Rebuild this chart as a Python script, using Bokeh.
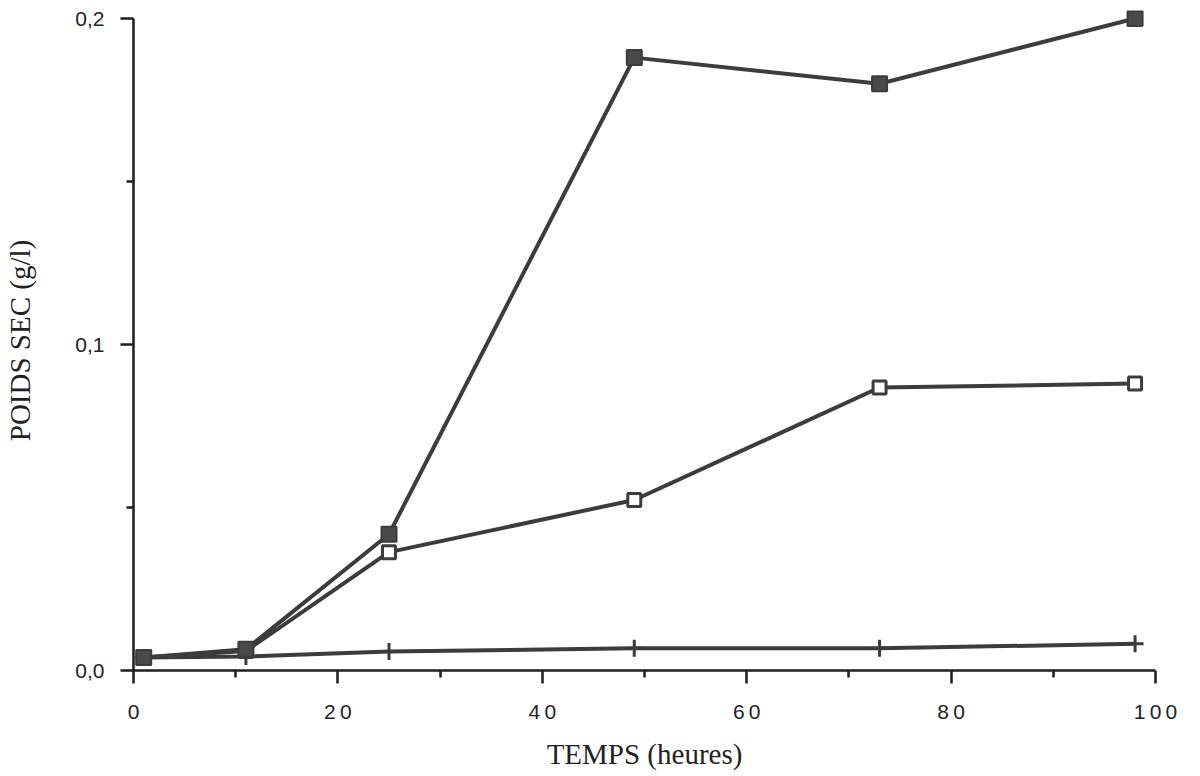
from bokeh.plotting import figure
from bokeh.embed import file_html
from bokeh.resources import INLINE
from bokeh.models import Range1d, CustomJSTickFormatter, FixedTicker

# Data
temps = [1, 11, 25, 49, 73, 98]
serie_pleine = [0.004, 0.0065, 0.0418, 0.188, 0.180, 0.200]
serie_vide = [0.004, 0.0060, 0.0363, 0.0523, 0.0868, 0.0880]
serie_croix = [0.004, 0.0043, 0.0058, 0.0068, 0.0068, 0.0082]

x_ticks = [0, 20, 40, 60, 80, 100]
x_minor = [10, 30, 50, 70, 90]
y_ticks = [0.0, 0.1, 0.2]
y_minor = [0.05, 0.15]
x_label = "TEMPS (heures)"
y_label = "POIDS SEC (g/l)"

W, H = 1184, 774
p = figure(width=W, height=H, output_backend="svg", toolbar_location=None,
           min_border_left=133, min_border_right=29, min_border_top=10, min_border_bottom=104)
p.x_range = Range1d(0, 100)
p.y_range = Range1d(0, 0.2 * (652 + 8) / 652)
p.outline_line_color = None
p.grid.visible = False
p.background_fill_color = "white"
p.border_fill_color = "white"

ink = "#3c3c3c"
for ax in (p.xaxis[0], p.yaxis[0]):
    ax.axis_line_color = "#1e1e1e"
    ax.axis_line_width = 2.5
    ax.major_tick_line_color = "#1e1e1e"
    ax.minor_tick_line_color = "#1e1e1e"
    ax.major_tick_line_width = 2.5
    ax.minor_tick_line_width = 2.5
    ax.major_tick_in = 0
    ax.minor_tick_in = 0
    ax.major_label_text_font = "Liberation Sans"
    ax.major_label_text_font_size = "21px"
    ax.major_label_text_color = "#222222"
    ax.axis_label_text_font = "Liberation Serif"
    ax.axis_label_text_font_size = "29px"
    ax.axis_label_text_font_style = "normal"
    ax.axis_label_text_color = "#222222"

p.xaxis.bounds = (0, 100)
p.yaxis.bounds = (0, 0.2)
p.xaxis.ticker = FixedTicker(ticks=x_ticks, minor_ticks=x_minor)
p.yaxis.ticker = FixedTicker(ticks=y_ticks, minor_ticks=y_minor)
p.xaxis.major_tick_out = 13
p.xaxis.minor_tick_out = 7
p.yaxis.major_tick_out = 13
p.yaxis.minor_tick_out = 7
p.xaxis.major_label_standoff = 16
p.yaxis.major_label_standoff = 16
p.xaxis.axis_label = x_label
p.yaxis.axis_label = y_label
p.xaxis.axis_label_standoff = 12
p.yaxis.axis_label_standoff = 36
p.xaxis.formatter = CustomJSTickFormatter(code="return tick.toFixed(0).split('').join('\u2009');")
p.yaxis.formatter = CustomJSTickFormatter(code="return tick.toFixed(1).replace('.', ',');")

lw = 4
p.line(temps, serie_croix, line_color=ink, line_width=lw)
p.line(temps, serie_vide, line_color=ink, line_width=lw)
p.line(temps, serie_pleine, line_color=ink, line_width=lw)

p.scatter(temps, serie_croix, marker="cross", size=17, line_color=ink, line_width=3)
p.scatter(temps, serie_vide, marker="square", size=13, fill_color="white", line_color=ink, line_width=3)
p.scatter(temps, serie_pleine, marker="square", size=15, fill_color="#4a4a4a", line_color=ink, line_width=2)

open("out.html", "w").write(file_html(p, INLINE))
